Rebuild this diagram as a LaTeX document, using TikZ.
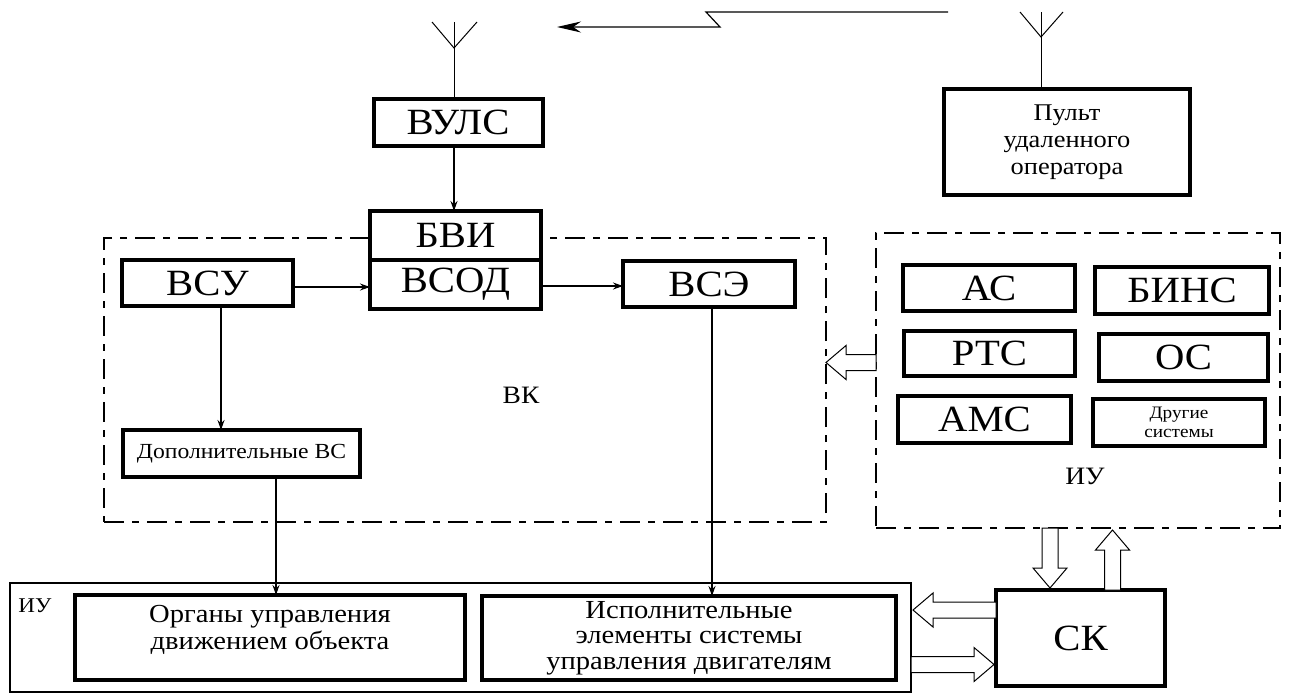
\documentclass[tikz,border=0pt]{standalone}
\usepackage{fontspec}
\setmainfont{Liberation Serif}[FakeStretch=1.1]
\usetikzlibrary{arrows.meta,positioning,calc}

% hollow block arrow: start point, length, direction
\newcommand{\fatarrow}[3]{%
    \draw[hollow, shift={#1}, rotate=#3]
        (0,-8) -- ({#2-20},-8) -- ({#2-20},-17) -- (#2,0)
        -- ({#2-20},17) -- ({#2-20},8) -- (0,8) -- cycle;}

\begin{document}
\begin{tikzpicture}[
        x=1pt, y=1pt,
        blk/.style={draw, fill=white, line width=4pt, outer sep=0pt,
            inner sep=0pt, align=center, font=\fontsize{37}{42}\selectfont},
        wbox/.style={blk, font=\fontsize{26}{27}\selectfont},
        grp/.style={draw, line width=2.5pt, outer sep=0pt,
            dash pattern=on 20pt off 8pt on 7pt off 8pt},
        lbl/.style={inner sep=0pt, font=\fontsize{25}{27}\selectfont},
        link/.style={draw, line width=1.3pt, -{Stealth[length=10pt,width=7pt]}},
        ant/.style={draw, line width=1pt},
        hollow/.style={draw, fill=white, line width=1pt},
    ]
        \useasboundingbox (0,0) rectangle (1289,-693);

        % groups
        \node[grp, minimum width=722, minimum height=284] (vk) at (465,-380) {};
        \node[grp, minimum width=404, minimum height=295] (iug) at (1078,-380.5) {};
        \node[draw, line width=1.2pt, outer sep=0pt, minimum width=901,
            minimum height=109] (iub) at (460.5,-637.5) {};

        \node[lbl] (vklbl) at (521,-395) {ВК};
        \node[lbl] (iulbl) at (1085,-476) {ИУ};
        \node[lbl, font=\fontsize{21}{23}\selectfont] (iublbl) at (35,-606) {ИУ};

        % upper blocks
        \node[blk, minimum width=169, minimum height=47] (vuls) at (458,-122.5) {ВУЛС};
        \node[blk, minimum width=171, minimum height=49] (bvi) at (455.5,-235.5) {БВИ};
        \node[blk, minimum width=171, minimum height=49, below=0pt of bvi] (vsod) {ВСОД};
        \node[blk, minimum width=171, minimum height=46] (vsu) at (207.5,-283) {ВСУ};
        \node[blk, minimum width=172, minimum height=46] (vse) at (709,-284) {ВСЭ};
        \node[blk, minimum width=237, minimum height=47,
            font=\fontsize{21.5}{23}\selectfont] (dop) at (241.5,-453.5) {Дополнительные ВС};
        \node[blk, minimum width=246, minimum height=106,
            font=\fontsize{24}{27}\selectfont] (pult) at (1067,-142)
            {Пульт\\удаленного\\оператора};

        % sensor blocks
        \node[blk, minimum width=172, minimum height=46] (ac) at (989,-288) {АС};
        \node[blk, minimum width=174, minimum height=47] (bins) at (1182,-290.5) {БИНС};
        \node[blk, minimum width=171, minimum height=45] (rts) at (989.5,-353.5) {РТС};
        \node[blk, minimum width=169, minimum height=47] (os) at (1183.5,-357.5) {ОС};
        \node[blk, minimum width=173, minimum height=47] (ams) at (984.5,-419.5) {АМС};
        \node[blk, minimum width=172, minimum height=47,
            font=\fontsize{17.5}{19}\selectfont] (other) at (1179,-422.5) {Другие\\системы};

        % lower blocks
        \node[blk, minimum width=169, minimum height=96] (sk) at (1080.5,-638) {СК};
        \node[wbox, minimum width=390, minimum height=85] (organs) at (270,-637.5)
            {Органы управления\\движением объекта\\[-6pt]};
        \node[wbox, minimum width=414, minimum height=84,
            font=\fontsize{26}{25.5}\selectfont] (isp) at (689,-638)
            {Исполнительные\\элементы системы\\управления двигателям};

        % antennas and radio link
        \coordinate (antl) at (454,-22);
        \coordinate (antr) at (1041,-12);
        \draw[ant] (vuls.north -| antl) -- (antl);
        \draw[ant] ($(antl)+(-22,0)$) -- ($(antl)+(0,-26)$) -- ($(antl)+(23,0)$);
        \draw[ant] (pult.north -| antr) -- (antr);
        \draw[ant] ($(antr)+(-21,0)$) -- ($(antr)+(0,-25)$) -- ($(antr)+(22,0)$);

        \coordinate (zfrom) at (948,-12);
        \coordinate (zto) at (557,-27);
        \draw[line width=1.2pt, -{Stealth[length=24pt,width=11pt]}]
            (zfrom) -- (706,-12) -- (720,-27) -- (zto);

        % links
        \draw[link] (vuls.south -| antl) -- (bvi.north -| antl);
        \draw[link] (vsu.east |- 0,-287) -- (vsod.west |- 0,-287);
        \draw[link] (vsod.east |- 0,-286) -- (vse.west |- 0,-286);
        \draw[link] (vsu.south -| 221,0) -- (dop.north -| 221,0);
        \draw[link] (dop.south -| 276,0) -- (organs.north -| 276,0);
        \draw[link] (vse.south -| 712,0) -- (isp.north -| 712,0);

        % block arrows
        \fatarrow{($(iug.west)+(0,18)$)}{50}{180}
        \fatarrow{($(iug.south)+(-28,0)$)}{60}{270}
        \fatarrow{($(sk.north)+(32,0)$)}{60}{90}
        \fatarrow{($(sk.west)+(0,28)$)}{83}{180}
        \fatarrow{($(iub.east)+(0,-27)$)}{83}{0}
    \end{tikzpicture}
\end{document}
